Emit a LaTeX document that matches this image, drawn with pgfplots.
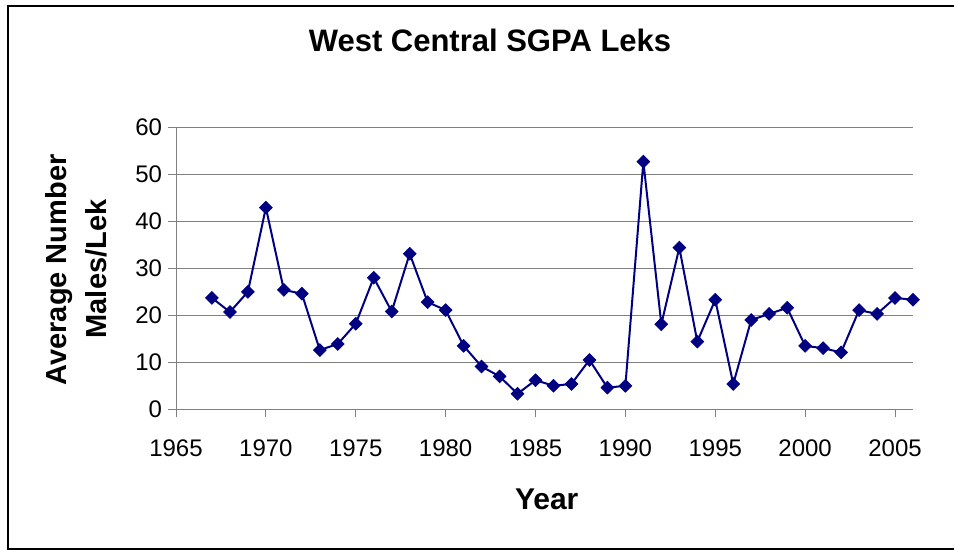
\documentclass[border=0pt]{standalone}
\usepackage{fontspec}
\setmainfont{Liberation Sans}
\usepackage{pgfplots}
\pgfplotsset{compat=1.18}
\definecolor{navy}{HTML}{000080}
\definecolor{gridgray}{HTML}{808080}
\begin{document}
\begin{tikzpicture}[x=0.75pt,y=0.75pt]
\useasboundingbox (0,0) rectangle (954,550);
\draw[line width=1.5pt] (975,544) -- (8,544) -- (8,1.2) -- (975,1.2);
\begin{axis}[
  at={(132pt,105.525pt)}, anchor=south west,
  scale only axis, width=552.75pt, height=211.5pt,
  xmin=1965, xmax=2006, ymin=0, ymax=60,
  xtick={1965,1970,...,2005}, ytick={0,10,...,60},
  axis x line*=bottom, axis y line*=left,
  axis line style={gridgray, line width=0.75pt, -},
  ymajorgrids, grid style={gridgray, line width=0.75pt},
  tick style={gridgray, line width=0.75pt},
  tick align=outside, major tick length=6pt,
  ticklabel style={font=\fontsize{18}{20}\selectfont, text=black},
  xticklabel style={yshift=-13pt},
  yticklabel style={xshift=-1pt},
  /pgf/number format/assume math mode=true,
  /pgf/number format/1000 sep={},
  clip=false,
]
\addplot[navy, line width=1.5pt, mark=square*, mark size=3.4pt, mark options={fill=navy, draw=navy, line width=0.5pt, rotate=45}] coordinates {
(1967,23.7) (1968,20.7) (1969,25.0) (1970,42.9) (1971,25.4) (1972,24.6)
(1973,12.6) (1974,13.9) (1975,18.2) (1976,28.0) (1977,20.8) (1978,33.1)
(1979,22.8) (1980,21.1) (1981,13.5) (1982,9.1) (1983,7.0) (1984,3.3)
(1985,6.2) (1986,5.0) (1987,5.4) (1988,10.5) (1989,4.6) (1990,5.0)
(1991,52.7) (1992,18.1) (1993,34.4) (1994,14.4) (1995,23.3) (1996,5.4)
(1997,19.0) (1998,20.3) (1999,21.6) (2000,13.5) (2001,13.0) (2002,12.1)
(2003,21.1) (2004,20.3) (2005,23.7) (2006,23.3)
};
\end{axis}
\node[anchor=base, font=\fontsize{23.25}{26}\selectfont\bfseries] at (490,498.3) {West Central SGPA Leks};
\node[anchor=base, font=\fontsize{22.5}{26}\selectfont\bfseries] at (546.7,40) {Year};
\node[anchor=base, rotate=90, font=\fontsize{21.75}{26}\selectfont\bfseries] at (66.7,280) {Average Number};
\node[anchor=base, rotate=90, font=\fontsize{21.75}{26}\selectfont\bfseries] at (106.7,281) {Males/Lek};
\end{tikzpicture}
\end{document}
